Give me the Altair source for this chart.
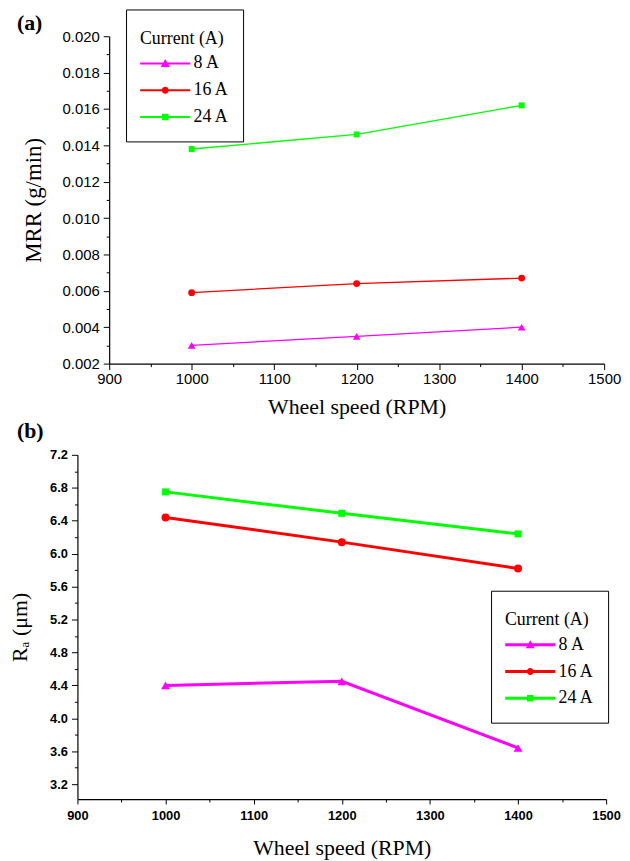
import altair as alt
import pandas as pd

# ---------------- data ----------------
rpm = [1000, 1200, 1400]
currents = ["8 A", "16 A", "24 A"]

mrr_8a = [0.0030, 0.0035, 0.0040]
mrr_16a = [0.0059, 0.0064, 0.0067]
mrr_24a = [0.0138, 0.0146, 0.0162]

ra_8a = [4.40, 4.45, 3.64]
ra_16a = [6.44, 6.14, 5.82]
ra_24a = [6.75, 6.49, 6.24]

x_major = [900, 1000, 1100, 1200, 1300, 1400, 1500]
x_minor = [950, 1050, 1150, 1250, 1350, 1450]
mrr_major = [0.002, 0.004, 0.006, 0.008, 0.010, 0.012, 0.014, 0.016, 0.018, 0.020]
mrr_minor = [0.003, 0.005, 0.007, 0.009, 0.011, 0.013, 0.015, 0.017, 0.019]
ra_major = [3.2, 3.6, 4.0, 4.4, 4.8, 5.2, 5.6, 6.0, 6.4, 6.8, 7.2]
ra_minor = [3.4, 3.8, 4.2, 4.6, 5.0, 5.4, 5.8, 6.2, 6.6, 7.0]

panel_labels = ["(a)", "(b)"]
colors = ["#FF00FF", "#FF0000", "#00FF00"]
markers = ["triangle-up", "circle", "square"]

SERIF = "Liberation Serif"
SANS = "Liberation Sans"


def long_df(series):
    rows = []
    for cur, ys in zip(currents, series):
        for x, y in zip(rpm, ys):
            rows.append({"rpm": x, "value": y, "Current": cur})
    return pd.DataFrame(rows)


def legend_paths(half):
    bar = f"M-1,{-half}H1V{half}H-1Z"
    return [
        bar + "M0,-0.18L0.18,0.14L-0.18,0.14Z",
        bar + "M-0.14,0A0.14,0.14,0,1,1,0.14,0A0.14,0.14,0,1,1,-0.14,0Z",
        bar + "M-0.13,-0.13H0.13V0.13H-0.13Z",
    ]


def panel(df, c):
    x0 = c["x0"]
    xs = alt.Scale(domain=[900, 1500], nice=False, zero=False, range=[x0, x0 + c["pw"]])
    ys = alt.Scale(domain=c["ydomain"], nice=False, zero=False)
    cs = alt.Scale(domain=currents, range=colors)

    x_axis = alt.Axis(
        orient="bottom", values=x_major, format="d", grid=False,
        labelFont=SANS, labelFontSize=c["lfs"], labelFontWeight=c["lfw"],
        labelColor="black", labelPadding=c["xlp"], labelFlush=False, labelOverlap=False,
        tickSize=c["xts"], tickColor="black", tickWidth=1,
        domainColor="black", domainWidth=1.2,
        title="Wheel speed (RPM)", titleFont=SERIF, titleFontSize=22,
        titleFontWeight="normal", titleColor="black", titlePadding=c["xtp"],
        titleX=x0 + c["pw"] / 2,
    )
    y_axis = alt.Axis(
        orient="left", values=c["ymajor"], format=c["yfmt"], grid=False, offset=-x0,
        labelFont=SANS, labelFontSize=c["lfs"], labelFontWeight=c["lfw"],
        labelColor="black", labelPadding=4, labelFlush=False, labelOverlap=False,
        tickSize=6, tickColor="black", tickWidth=1,
        domainColor="black", domainWidth=1.2,
        title=c["ytitle"], titleFont=SERIF, titleFontSize=c["ytfs"],
        titleFontWeight="normal", titleColor="black",
        titleX=c["titleX"], titleY=c["h"] / 2, titleAngle=270,
        titleAlign="center", titleBaseline="bottom",
    )
    x_minor_axis = alt.Axis(
        orient="bottom", values=x_minor, labels=False, domain=False, grid=False,
        tickSize=3, tickColor="black", tickWidth=1, title="",
    )
    y_minor_axis = alt.Axis(
        orient="left", values=c["yminor"], labels=False, domain=False, grid=False,
        offset=-x0, tickSize=3, tickColor="black", tickWidth=1, title="",
    )

    legend = alt.Legend(
        title=["", "Current (A)"], titleLineHeight=7,
        orient="none", legendX=c["legX"], legendY=c["legY"],
        strokeColor="black", fillColor="white", padding=14,
        titleFont=SERIF, titleFontSize=18, titleFontWeight="normal", titleColor="black",
        titlePadding=5,
        labelFont=SERIF, labelFontSize=18, labelColor="black", labelOffset=3,
        symbolSize=2550, symbolStrokeWidth=0, symbolOpacity=1,
        rowPadding=6, clipHeight=21,
    )

    line = alt.Chart(df).mark_line(strokeWidth=c["lw"]).encode(
        x=alt.X("rpm:Q", scale=xs, axis=x_axis),
        y=alt.Y("value:Q", scale=ys, axis=y_axis),
        color=alt.Color("Current:N", scale=cs, legend=None),
    )
    pts = alt.Chart(df).mark_point(filled=True, opacity=1).encode(
        x=alt.X("rpm:Q", scale=xs, axis=None),
        y=alt.Y("value:Q", scale=ys, axis=None),
        color=alt.Color("Current:N", scale=cs, legend=None),
        shape=alt.Shape("Current:N", scale=alt.Scale(domain=currents, range=markers), legend=None),
        size=alt.Size("Current:N", scale=alt.Scale(domain=currents, range=c["msizes"]), legend=None),
    )
    guide = alt.Chart(df).mark_point(filled=True, opacity=1).encode(
        x=alt.X("rpm:Q", scale=xs, axis=x_minor_axis),
        y=alt.Y("value:Q", scale=ys, axis=y_minor_axis),
        color=alt.Color("Current:N", scale=cs, legend=legend),
        shape=alt.Shape("Current:N", scale=alt.Scale(domain=currents, range=legend_paths(c["bar"])), legend=legend),
    ).transform_filter("false")

    lab = alt.Chart(pd.DataFrame({"panel": [c["label"]]})).mark_text(
        font=SERIF, fontSize=22, fontWeight="bold", color="black",
        align="left", baseline="alphabetic",
    ).encode(text="panel:N", x=alt.value(c["labX"]), y=alt.value(c["labY"]))

    return alt.layer(line, pts, guide, lab).resolve_scale(
        shape="independent", size="independent"
    ).resolve_axis(
        x="independent", y="independent"
    ).resolve_legend(
        color="independent", shape="independent"
    ).properties(width=x0 + c["pw"], height=c["h"])


# group origin = bottom plot's left edge (page x 74); top plot is shifted right by 32
top = panel(long_df([mrr_8a, mrr_16a, mrr_24a]), dict(
    x0=32, pw=499,
    ydomain=[0.002, 0.020], ymajor=mrr_major, yminor=mrr_minor, yfmt=".3f",
    ytitle="MRR (g/min)", ytfs=23, titleX=-64, h=330,
    lfs=15, lfw="normal", xlp=2, xts=6, xtp=10,
    legX=49, legY=-27, lw=1.3, msizes=[60, 36, 40], bar=0.04,
    label=panel_labels[0], labX=-61, labY=-6,
))

bottom = panel(long_df([ra_8a, ra_16a, ra_24a]), dict(
    x0=0, pw=533,
    ydomain=[3.02, 7.2], ymajor=ra_major, yminor=ra_minor, yfmt=".1f",
    ytitle="Rₐ (μm)", ytfs=22, titleX=-46, h=347,
    lfs=13, lfw="bold", xlp=6, xts=5, xtp=15,
    legX=417, legY=137, lw=3, msizes=[80, 50, 55], bar=0.06,
    label=panel_labels[1], labX=-61, labY=-17,
))

chart = alt.concat(top, bottom, columns=1, spacing=1).properties(
    padding={"left": 0, "top": -3, "right": 0, "bottom": 0}
).configure_view(stroke="transparent")

chart.save("out.html", embed_options={"renderer": "svg", "actions": False})
